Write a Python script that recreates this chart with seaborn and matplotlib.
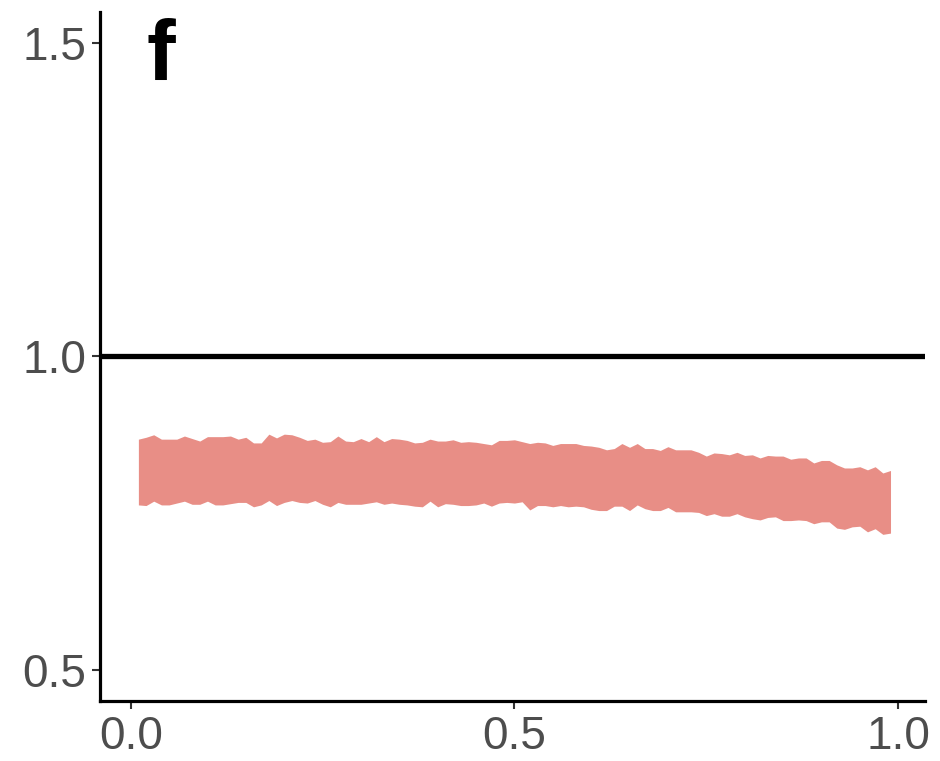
import numpy as np
import pandas as pd
import matplotlib
matplotlib.use("Agg")
import matplotlib.pyplot as plt
import seaborn as sns

# x grid of the ribbon
x_vals = [round(0.01 * (i + 1), 2) for i in range(99)]

# upper bound of the interval
upper = [
    0.868, 0.871, 0.875, 0.868, 0.868, 0.868, 0.873, 0.869, 0.865, 0.872,
    0.872, 0.872, 0.873, 0.868, 0.871, 0.862, 0.862, 0.876, 0.870, 0.876,
    0.875, 0.871, 0.866, 0.868, 0.863, 0.864, 0.873, 0.865, 0.864, 0.869,
    0.864, 0.872, 0.864, 0.869, 0.868, 0.866, 0.862, 0.863, 0.868, 0.865,
    0.865, 0.867, 0.863, 0.864, 0.863, 0.861, 0.859, 0.866, 0.866, 0.867,
    0.864, 0.861, 0.863, 0.862, 0.858, 0.861, 0.861, 0.861, 0.858, 0.857,
    0.855, 0.851, 0.853, 0.861, 0.855, 0.861, 0.853, 0.853, 0.850, 0.856,
    0.851, 0.851, 0.851, 0.847, 0.841, 0.846, 0.845, 0.843, 0.847, 0.842,
    0.843, 0.838, 0.842, 0.841, 0.841, 0.836, 0.838, 0.838, 0.830, 0.834,
    0.834, 0.827, 0.822, 0.822, 0.824, 0.819, 0.824, 0.814, 0.818,
]

# lower bound of the interval
lower = [
    0.763, 0.762, 0.769, 0.763, 0.763, 0.766, 0.769, 0.764, 0.764, 0.769,
    0.763, 0.763, 0.765, 0.767, 0.767, 0.760, 0.763, 0.770, 0.762, 0.767,
    0.770, 0.767, 0.766, 0.770, 0.764, 0.760, 0.767, 0.764, 0.764, 0.764,
    0.766, 0.768, 0.764, 0.766, 0.764, 0.763, 0.761, 0.760, 0.769, 0.760,
    0.765, 0.764, 0.762, 0.762, 0.763, 0.766, 0.761, 0.766, 0.767, 0.766,
    0.768, 0.755, 0.762, 0.762, 0.760, 0.762, 0.760, 0.761, 0.760, 0.756,
    0.754, 0.754, 0.761, 0.761, 0.754, 0.763, 0.757, 0.754, 0.754, 0.759,
    0.752, 0.752, 0.752, 0.751, 0.746, 0.749, 0.745, 0.745, 0.749, 0.744,
    0.741, 0.739, 0.743, 0.744, 0.738, 0.738, 0.739, 0.738, 0.733, 0.736,
    0.736, 0.726, 0.724, 0.728, 0.729, 0.720, 0.725, 0.716, 0.718,
]

reference_level = 1.0
x_ticks = [0.0, 0.5, 1.0]
x_tick_labels = ["0.0", "0.5", "1.0"]
y_ticks = [0.5, 1.0, 1.5]
y_tick_labels = ["0.5", "1.0", "1.5"]
panel_label = "f"

df = pd.DataFrame({"x": x_vals, "upper": upper, "lower": lower})

sns.set_style("ticks")
plt.rcParams["font.family"] = ["Liberation Sans", "DejaVu Sans"]

fig = plt.figure(figsize=(9.4, 7.61), dpi=100)
ax = fig.add_axes([0.1064, 0.0789, 0.8777, 0.9053])

ax.fill_between(df["x"], df["lower"], df["upper"], color="#E88E86",
                linewidth=0, zorder=2)
ax.axhline(reference_level, color="black", linewidth=3.8, zorder=3)

ax.set_xlim(-0.040, 1.035)
ax.set_ylim(0.45, 1.55)
ax.set_xticks(x_ticks)
ax.set_xticklabels(x_tick_labels)
ax.set_yticks(y_ticks)
ax.set_yticklabels(y_tick_labels)
ax.set_xlabel("")
ax.set_ylabel("")

sns.despine(ax=ax)
for side in ("left", "bottom"):
    ax.spines[side].set_linewidth(2.3)
    ax.spines[side].set_color("black")

ax.tick_params(axis="both", which="major", length=6, width=1.5,
               color="#333333", labelsize=33, labelcolor="#4D4D4D", pad=4)

ax.text(0.056, 0.992, panel_label, transform=ax.transAxes,
        fontsize=62, fontweight="bold", color="black",
        ha="left", va="top")

fig.savefig("out.png", dpi=100, facecolor="white")
